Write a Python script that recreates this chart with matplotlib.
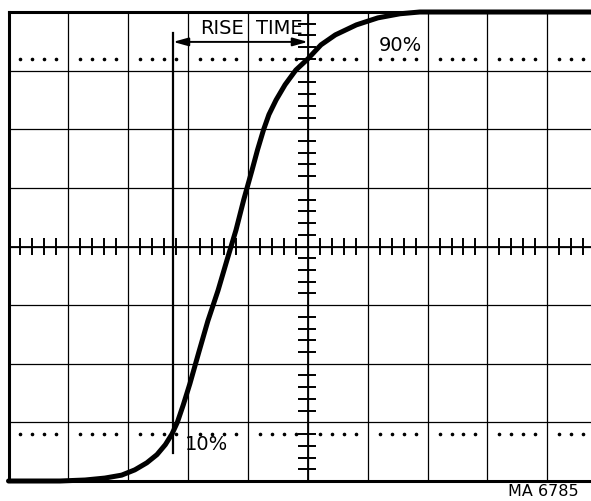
import numpy as np
import matplotlib
matplotlib.use("Agg")
import matplotlib.pyplot as plt

# oscilloscope trace, in screen divisions (10 x 8 graticule, right edge cropped)
curve_x = [0.0, 0.86, 1.28, 1.61, 1.89, 2.11, 2.31, 2.48, 2.62, 2.73, 2.82, 2.92,
           3.03, 3.18, 3.33, 3.50, 3.65, 3.80, 3.93, 4.07, 4.16, 4.26, 4.35,
           4.47, 4.62, 4.80, 5.00, 5.22, 5.46, 5.81, 6.17, 6.54, 6.87, 9.73]
curve_y = [0.0, 0.0, 0.017, 0.05, 0.10, 0.19, 0.31, 0.45, 0.62, 0.80, 1.00, 1.30,
           1.66, 2.20, 2.73, 3.25, 3.77, 4.28, 4.80, 5.31, 5.65, 5.99, 6.25,
           6.50, 6.76, 7.01, 7.20, 7.44, 7.61, 7.78, 7.90, 7.97, 8.00, 8.00]

levels = [0.8, 7.2]          # 10 % and 90 % of 8 divisions
level_labels = ["10%", "90%"]
t10, t90 = 2.75, 5.0          # where the trace crosses 10 % / 90 %

n_cols, n_rows = 10, 8
x_max = 9.73

fig = plt.figure(figsize=(5.91, 5.01), dpi=100)
ax = fig.add_axes([8.5 / 591, 20 / 501, 582.5 / 591, 469 / 501])
ax.set_xlim(0, x_max)
ax.set_ylim(0, n_rows)
ax.set_xticks([])
ax.set_yticks([])
for side in ["left", "top", "bottom"]:
    ax.spines[side].set_linewidth(2.2)
ax.spines["right"].set_visible(False)

# graticule
for i in range(1, n_cols):
    ax.axvline(i, color="black", lw=0.9, zorder=1)
for j in range(1, n_rows):
    ax.axhline(j, color="black", lw=0.9, zorder=1)

# centre axes with minor ticks every 0.2 div
ax.axhline(n_rows / 2, color="black", lw=1.3, zorder=2)
ax.axvline(n_cols / 2, color="black", lw=1.3, zorder=2)
sub = np.arange(0, n_cols * 5 + 1) / 5
sub = sub[(np.abs(sub - np.round(sub)) > 1e-6) & (sub < x_max)]
ax.vlines(sub, n_rows / 2 - 0.14, n_rows / 2 + 0.14, color="black", lw=1.4, zorder=2)
suby = np.arange(1, n_rows * 5) / 5
suby = suby[np.abs(suby - np.round(suby)) > 1e-6]
ax.hlines(suby, n_cols / 2 - 0.16, n_cols / 2 + 0.14, color="black", lw=1.4, zorder=2)

# dotted 10 % / 90 % lines
for lev in levels:
    ax.plot(sub, [lev] * len(sub), ls="none", marker="o", ms=1.6, color="black", zorder=2)

# the trace
ax.plot(curve_x, curve_y, color="black", lw=3.6, solid_capstyle="round",
        solid_joinstyle="round", zorder=4, clip_on=False)

# rise time marker and arrow
ax.plot([t10, t10], [0.48, 7.64], color="black", lw=1.6, zorder=3)
ax.annotate("", xy=(t10, 7.49), xytext=(t90, 7.49),
            arrowprops=dict(arrowstyle="<|-|>,head_length=0.9,head_width=0.25",
                            color="black", lw=1.4, shrinkA=0, shrinkB=0), zorder=3)
txt = dict(ha="center", va="center", fontsize=14, family="DejaVu Sans", zorder=5)
ax.text(3.56, 7.72, "RISE", **txt)
ax.text(4.53, 7.72, "TIME", **txt)

ax.text(3.30, 0.62, level_labels[0], **txt)
ax.text(6.54, 7.43, level_labels[1], **txt)

fig.text(543 / 591, 9.5 / 501, "MA 6785", ha="center", va="center", fontsize=11.5,
         family="DejaVu Sans")

fig.savefig("out.png", dpi=100, facecolor="white")
